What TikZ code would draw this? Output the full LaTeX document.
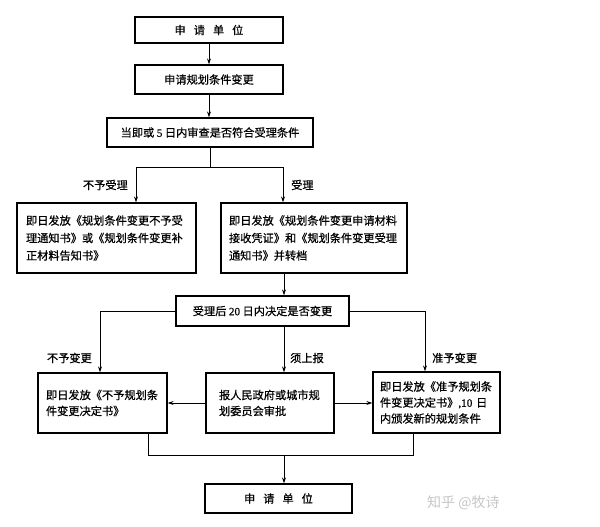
\documentclass[tikz,border=0pt]{standalone}
\usepackage{fontspec}
\setmainfont[FakeBold=0.6]{Noto Sans CJK SC}
\newfontfamily\latin[FakeBold=0.6]{Liberation Serif}
\newfontfamily\wmfont{Noto Sans CJK SC}
\usetikzlibrary{arrows.meta}
\begin{document}
\begin{tikzpicture}[x=1pt,y=-1pt]
\tikzset{
  box/.style={draw,line width=1.3pt,inner ysep=0pt,anchor=center,align=left},
  upbox/.style={box,font=\fontsize{11.2}{17.5}\selectfont},
  lowbox/.style={box,font=\fontsize{11.2}{16}\selectfont},
  onebox/.style={draw,line width=1.3pt,inner sep=0pt,anchor=center,font=\fontsize{11.2}{13}\selectfont},
  lbl/.style={inner sep=0pt,font=\fontsize{11.2}{13}\selectfont},
  conn/.style={line width=0.9pt},
  arr/.style={conn,-{Stealth[length=6pt,width=4pt]}}
}
\useasboundingbox[fill=white] (0,0) rectangle (600,527);

\node[onebox,minimum width=148pt,minimum height=26pt] (b1) at (209,30) {申\hspace{8pt}请\hspace{8pt}单\hspace{8pt}位};
\node[onebox,minimum width=148pt,minimum height=29pt] (b2) at (209,79.5) {申请规划条件变更};
\node[onebox,minimum width=206pt,minimum height=29pt] (b3) at (210,132.5) {当即或 {\latin 5} 日内审查是否符合受理条件};

\node[upbox,inner xsep=9pt,text width=161pt,minimum height=70pt] (L1) at (106.5,238)
  {即日发放《规划条件变更不予受\\理通知书》或《规划条件变更补\\正材料告知书》};
\node[upbox,inner xsep=8pt,text width=170pt,minimum height=70pt] (R1) at (314,238)
  {即日发放《规划条件变更申请材料\\接收凭证》和《规划条件变更受理\\通知书》并转档};

\node[onebox,minimum width=173pt,minimum height=30pt] (b5) at (262.5,311) {受理后 {\latin 20} 日内决定是否变更};

\node[lowbox,inner xsep=8pt,text width=113pt,minimum height=60pt] (L2) at (102.5,403)
  {即日发放《不予规划条\\件变更决定书》};
\node[lowbox,inner xsep=13pt,text width=102pt,minimum height=60pt] (M2) at (270,403)
  {报人民政府或城市规\\划委员会审批};
\node[lowbox,inner xsep=7pt,text width=113pt,minimum height=61pt] (R2) at (436.5,402.5)
  {即日发放《准予规划条\\件变更决定书》{\latin ,10} 日\\内颁发新的规划条件};

\node[onebox,minimum width=147pt,minimum height=29pt] (b6) at (278.5,498.5) {申\hspace{8pt}请\hspace{8pt}单\hspace{8pt}位};

% labels
\node[lbl,anchor=east] (t1) at (128,185) {不予受理};
\node[lbl,anchor=west] (t2) at (291,185) {受理};
\node[lbl,anchor=east] (t3) at (92,358) {不予变更};
\node[lbl,anchor=west] (t4) at (290,358) {须上报};
\node[lbl,anchor=west] (t5) at (432,358) {准予变更};

% watermark
\node[inner sep=0pt,anchor=west,text=black!22,font=\wmfont\fontsize{14}{16}\selectfont] (wm) at (427,503) {知乎 @牧诗};

% connectors
\coordinate (x284) at (284,0);
\draw[arr] (b1.south) -- (b2.north);
\draw[arr] (b2.south) -- (b2.south |- b3.north);
\coordinate (jL) at (136,167);
\coordinate (jR) at (283,167);
\draw[conn] (b3.south) -- (b3.south |- jL);
\draw[conn] (jL) -- (jR);
\draw[arr] (jL) -- (jL |- L1.north);
\draw[arr] (jR) -- (jR |- R1.north);
\draw[arr] (x284 |- R1.south) -- (x284 |- b5.north);
\coordinate (kL) at (100,311);
\coordinate (kR) at (425,311);
\draw[arr] (b5.west) -- (kL) -- (kL |- L2.north);
\draw[arr] (b5.east) -- (kR) -- (kR |- R2.north);
\draw[arr] (x284 |- b5.south) -- (x284 |- M2.north);
\draw[arr] (M2.west) -- (L2.east);
\draw[arr] (M2.east) -- (R2.west |- M2.east);
\coordinate (mL) at (148,455);
\coordinate (mR) at (413,455);
\draw[conn] (mL |- L2.south) -- (mL) -- (mR) -- (mR |- R2.south);
\draw[arr] (x284 |- mL) -- (x284 |- b6.north);
\end{tikzpicture}
\end{document}
